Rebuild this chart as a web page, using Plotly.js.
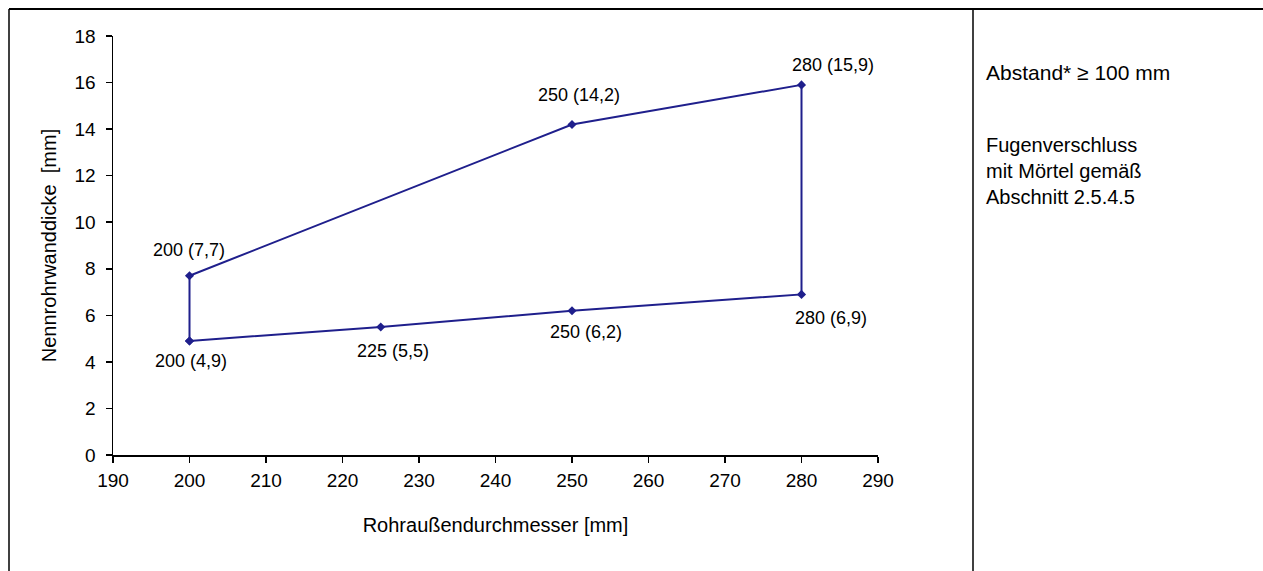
<!DOCTYPE html>
<html>
<head>
<meta charset="utf-8">
<script src="https://cdn.plot.ly/plotly-3.0.1.min.js"></script>
<style>
  html, body { margin: 0; padding: 0; background: #fff; }
  #chart { width: 1263px; height: 571px; }
</style>
</head>
<body>
<div id="chart"></div>
<script>
// Polygon outline (closed), Rohraußendurchmesser vs. Nennrohrwanddicke
var outlineX = [200, 225, 250, 280, 280, 250, 200, 200];
var outlineY = [4.9, 5.5, 6.2, 6.9, 15.9, 14.2, 7.7, 4.9];

// Labelled points
var pointX = [200, 200, 225, 250, 280, 280, 250];
var pointY = [7.7, 4.9, 5.5, 6.2, 6.9, 15.9, 14.2];
var pointLabels = ["200 (7,7)", "200 (4,9)", "225 (5,5)", "250 (6,2)", "280 (6,9)", "280 (15,9)", "250 (14,2)"];

// Label offsets in px (style only)
var labelDX = [-1, 1, 12, 14, 29, 31, 7];
var labelDY = [26, -20, -24, -21, -24, 20, 29];

var xTicks = [190, 200, 210, 220, 230, 240, 250, 260, 270, 280, 290];
var yTicks = [0, 2, 4, 6, 8, 10, 12, 14, 16, 18];

var sideNote1 = "Abstand* \u2265 100 mm";
var sideNote2 = "Fugenverschluss<br>mit Mörtel gemäß<br>Abschnitt 2.5.4.5";

var lineColor = "#1f1f8c";
var fontFam = "Arial, 'Liberation Sans', sans-serif";

var trace = {
  x: outlineX,
  y: outlineY,
  mode: "lines+markers",
  type: "scatter",
  line: { color: lineColor, width: 2 },
  marker: { symbol: "diamond", size: 7, color: lineColor },
  hoverinfo: "skip"
};

var annotations = pointLabels.map(function (t, i) {
  return {
    x: pointX[i], y: pointY[i], xref: "x", yref: "y",
    text: t, showarrow: false,
    xanchor: "center", yanchor: "middle",
    xshift: labelDX[i], yshift: labelDY[i],
    font: { family: fontFam, size: 18, color: "#000" }
  };
});

// paper coordinate helpers: plot area 113..878 px (x), 36..455 px (y)
function px(v) { return (v - 113) / 765; }
function py(v) { return (455 - v) / 419; }

annotations.push({
  xref: "paper", yref: "paper", x: px(984), y: py(73),
  xanchor: "left", yanchor: "middle", align: "left",
  text: sideNote1, showarrow: false,
  font: { family: fontFam, size: 21, color: "#000" }
});
annotations.push({
  xref: "paper", yref: "paper", x: px(984), y: py(171),
  xanchor: "left", yanchor: "middle", align: "left",
  text: sideNote2, showarrow: false,
  font: { family: fontFam, size: 20, color: "#000" }
});

var shapes = [
  { type: "line", xref: "paper", yref: "paper", x0: px(9), x1: px(1263), y0: py(9), y1: py(9), line: { color: "#000", width: 2 } },
  { type: "line", xref: "paper", yref: "paper", x0: px(9), x1: px(9), y0: py(9), y1: py(575), line: { color: "#000", width: 1.5 } },
  { type: "line", xref: "paper", yref: "paper", x0: px(973), x1: px(973), y0: py(9), y1: py(575), line: { color: "#000", width: 1.5 } }
];

var layout = {
  width: 1263, height: 571,
  margin: { l: 113, r: 385, t: 36, b: 116 },
  paper_bgcolor: "#fff", plot_bgcolor: "#fff",
  showlegend: false,
  font: { family: fontFam, size: 19, color: "#000" },
  xaxis: {
    range: [190, 290], tickvals: xTicks, ticktext: xTicks.map(String),
    showgrid: false, zeroline: false,
    showline: true, linecolor: "#000", linewidth: 1.5,
    ticks: "outside", ticklen: 6, tickwidth: 1.5, tickcolor: "#000",
    ticklabelstandoff: 2,
    tickfont: { family: fontFam, size: 19, color: "#000" },
    title: { text: "Rohraußendurchmesser [mm]", standoff: 27, font: { family: fontFam, size: 20, color: "#000" } }
  },
  yaxis: {
    range: [0, 18], tickvals: yTicks, ticktext: yTicks.map(String),
    showgrid: false, zeroline: false,
    showline: true, linecolor: "#000", linewidth: 1.5,
    ticks: "outside", ticklen: 6, tickwidth: 1.5, tickcolor: "#000",
    ticklabelstandoff: 6,
    tickfont: { family: fontFam, size: 19, color: "#000" },
    title: { text: "Nennrohrwanddicke  [mm]", standoff: 12, font: { family: fontFam, size: 20, color: "#000" } }
  },
  annotations: annotations,
  shapes: shapes
};

Plotly.newPlot("chart", [trace], layout, { displayModeBar: false, staticPlot: true });
</script>
</body>
</html>
